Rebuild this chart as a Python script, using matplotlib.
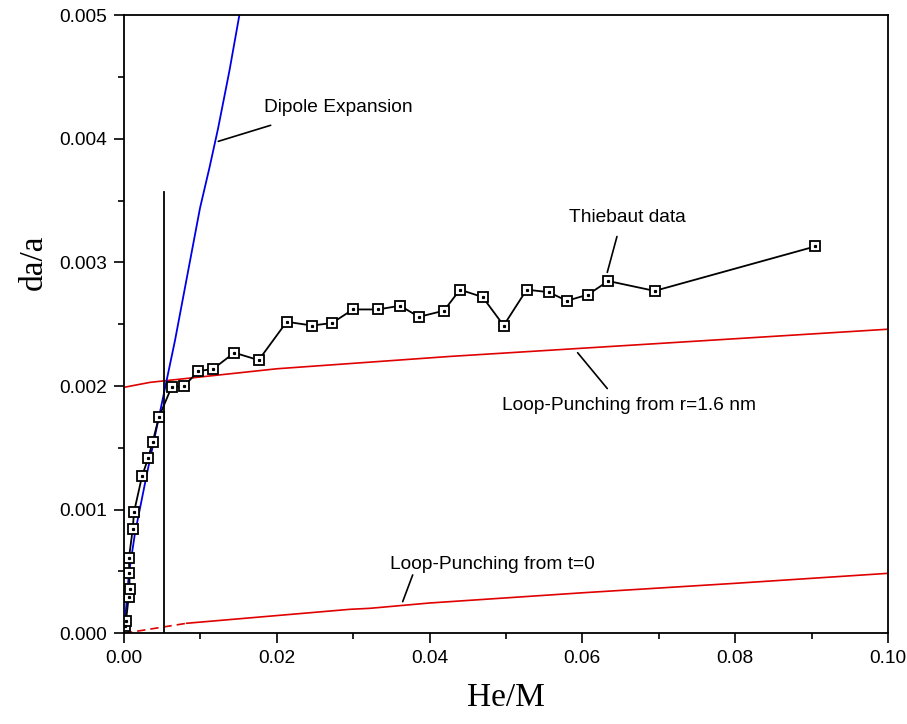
import numpy as np
import matplotlib
matplotlib.use("Agg")
import matplotlib.pyplot as plt
from matplotlib.ticker import MultipleLocator, FormatStrFormatter

plt.rcParams['font.family'] = ['Liberation Sans', 'DejaVu Sans']

# Thiebaut measurements: He/M vs da/a
thiebaut_x = [0.0001, 0.00026, 0.00062, 0.00075, 0.00069, 0.00065, 0.00114, 0.00131,
              0.00236, 0.00318, 0.00376, 0.00458, 0.00622, 0.00785, 0.00973, 0.01169,
              0.01444, 0.01763, 0.0213, 0.02461, 0.02723, 0.02997, 0.03325, 0.03613,
              0.03861, 0.04188, 0.04398, 0.04695, 0.0497, 0.05271, 0.05559, 0.05798,
              0.06073, 0.06339, 0.06946, 0.09049]
thiebaut_y = [0.000059, 0.0001, 0.000296, 0.000356, 0.00049, 0.00061, 0.00084, 0.00098,
              0.00127, 0.00142, 0.00155, 0.00175, 0.00199, 0.0020, 0.00212, 0.00214,
              0.00227, 0.00221, 0.00252, 0.00249, 0.00251, 0.00262, 0.00262, 0.00265,
              0.00256, 0.00261, 0.00278, 0.00272, 0.00249, 0.00278, 0.00276, 0.00269,
              0.00274, 0.00285, 0.00277, 0.00313]

# dipole expansion model
dipole_x = [0.0, 0.00065, 0.00144, 0.00300, 0.00458, 0.00668, 0.00830, 0.00995,
            0.0112, 0.0123, 0.0138, 0.0151]
dipole_y = [0.0, 0.000485, 0.00081, 0.00129, 0.00175, 0.00237, 0.00290, 0.00344,
            0.00377, 0.00408, 0.00455, 0.0050]

# loop punching starting from r=1.6 nm
lp16_x = [0.0, 0.0034, 0.02, 0.0427, 0.0688, 0.10]
lp16_y = [0.00199, 0.00203, 0.00214, 0.00224, 0.00234, 0.00246]

# loop punching starting from t=0 (first part dashed)
lp0_dash_x = [0.0, 0.0082]
lp0_dash_y = [0.0, 0.000081]
lp0_x = [0.0082, 0.0296, 0.0322, 0.04, 0.0601, 0.0802, 0.10]
lp0_y = [0.000081, 0.000194, 0.000202, 0.000245, 0.000328, 0.000405, 0.000485]

# vertical marker line
vline_x = 0.00528
vline_top = 0.00357

fig = plt.figure(figsize=(9.07, 7.24), dpi=100)
ax = fig.add_axes([0.1367, 0.1253, 0.8423, 0.8536])

ax.plot(lp16_x, lp16_y, color='#e00000', lw=1.2)
ax.plot(lp0_dash_x, lp0_dash_y, color='#e00000', lw=1.2, ls=(0, (5, 3)))
ax.plot(lp0_x, lp0_y, color='#e00000', lw=1.2)
ax.plot(dipole_x, dipole_y, color='#0000e6', lw=1.3)
ax.plot([vline_x, vline_x], [0, vline_top], color='k', lw=1.3)

ax.plot(thiebaut_x, thiebaut_y, color='k', lw=1.3, marker='s', ms=6.5,
        mfc='white', mec='k', mew=1.3)
ax.plot(thiebaut_x, thiebaut_y, ls='none', marker='s', ms=1.3, color='k')

ax.set_xlim(0, 0.10)
ax.set_ylim(0, 0.005)
ax.xaxis.set_major_locator(MultipleLocator(0.02))
ax.xaxis.set_minor_locator(MultipleLocator(0.01))
ax.yaxis.set_major_locator(MultipleLocator(0.001))
ax.yaxis.set_minor_locator(MultipleLocator(0.0005))
ax.xaxis.set_major_formatter(FormatStrFormatter('%.2f'))
ax.yaxis.set_major_formatter(FormatStrFormatter('%.3f'))
ax.tick_params(which='major', direction='out', length=7, width=1.2, labelsize=13.8, pad=5)
ax.tick_params(which='minor', direction='out', length=4, width=1.2)
for s in ax.spines.values():
    s.set_linewidth(1.3)

serif = ['Liberation Serif', 'DejaVu Serif']
ax.set_xlabel("He/M", fontsize=24, family=serif)
ax.set_ylabel("da/a", fontsize=24, family=serif)
ax.xaxis.set_label_coords(0.5, -0.08)
ax.yaxis.set_label_coords(-0.098, 0.6)

# curve labels and their leader lines
fs = 13.8
lead = dict(arrowstyle='-', color='k', lw=1.2, shrinkA=0, shrinkB=0)
ax.text(0.01832, 0.00425, "Dipole Expansion", fontsize=fs, ha='left', va='center')
ax.annotate("", xy=(0.01234, 0.00398), xytext=(0.0192, 0.00411), arrowprops=lead)

ax.text(0.06584, 0.00336, "Thiebaut data", fontsize=fs, ha='center', va='center')
ax.annotate("", xy=(0.06326, 0.00292), xytext=(0.06453, 0.00321), arrowprops=lead)

ax.text(0.06613, 0.00184, "Loop-Punching from r=1.6 nm", fontsize=fs, ha='center', va='center')
ax.annotate("", xy=(0.05938, 0.00227), xytext=(0.06326, 0.00198), arrowprops=lead)

ax.text(0.04823, 0.000553, "Loop-Punching from t=0", fontsize=fs, ha='center', va='center')
ax.annotate("", xy=(0.03648, 0.000256), xytext=(0.03779, 0.000472), arrowprops=lead)

fig.savefig("out.png", dpi=100)
